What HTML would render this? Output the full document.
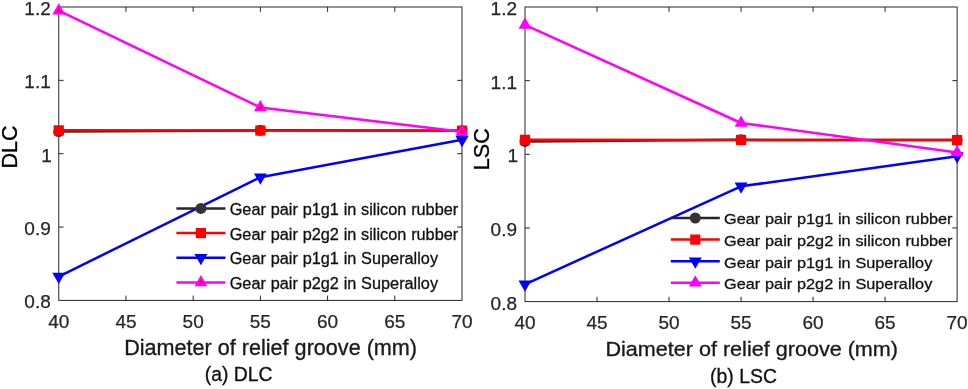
<!DOCTYPE html>
<html><head><meta charset="utf-8"><title>DLC and LSC</title>
<style>
html,body{margin:0;padding:0;background:#fff}
svg{display:block}
text{font-family:"Liberation Sans",Arial,Helvetica,sans-serif;fill:#262626}
.tk{font-size:19px;stroke:#262626;stroke-width:0.25px}
.xl{font-size:21.6px;fill:#1a1a1a;stroke:#1a1a1a;stroke-width:0.35px}
.yl{font-size:21.6px;fill:#000;stroke:#000;stroke-width:0.3px}
.cap{font-size:19.4px;fill:#111;stroke:#111;stroke-width:0.3px}
.lg{font-size:16.3px;word-spacing:0.25px;fill:#111;stroke:#111;stroke-width:0.3px}
</style></head><body>
<svg width="968" height="389" viewBox="0 0 968 389">
<rect width="968" height="389" fill="#fff"/>
<rect x="58.75" y="7" width="403.25" height="293.4" fill="none" stroke="#262626" stroke-width="1"/>
<text x="58.75" y="328.10" text-anchor="middle" class="tk">40</text>
<path d="M125.96 300.4v-4.8M125.96 7v4.8" stroke="#262626" stroke-width="1"/>
<text x="125.96" y="328.10" text-anchor="middle" class="tk">45</text>
<path d="M193.17 300.4v-4.8M193.17 7v4.8" stroke="#262626" stroke-width="1"/>
<text x="193.17" y="328.10" text-anchor="middle" class="tk">50</text>
<path d="M260.38 300.4v-4.8M260.38 7v4.8" stroke="#262626" stroke-width="1"/>
<text x="260.38" y="328.10" text-anchor="middle" class="tk">55</text>
<path d="M327.58 300.4v-4.8M327.58 7v4.8" stroke="#262626" stroke-width="1"/>
<text x="327.58" y="328.10" text-anchor="middle" class="tk">60</text>
<path d="M394.79 300.4v-4.8M394.79 7v4.8" stroke="#262626" stroke-width="1"/>
<text x="394.79" y="328.10" text-anchor="middle" class="tk">65</text>
<text x="462.00" y="328.10" text-anchor="middle" class="tk">70</text>
<text x="50.75" y="308.30" text-anchor="end" class="tk">0.8</text>
<path d="M58.75 227.05h4.8M462 227.05h-4.8" stroke="#262626" stroke-width="1"/>
<text x="50.75" y="234.95" text-anchor="end" class="tk">0.9</text>
<path d="M58.75 153.70h4.8M462 153.70h-4.8" stroke="#262626" stroke-width="1"/>
<text x="51.95" y="161.60" text-anchor="end" class="tk">1</text>
<path d="M58.75 80.35h4.8M462 80.35h-4.8" stroke="#262626" stroke-width="1"/>
<text x="50.75" y="88.25" text-anchor="end" class="tk">1.1</text>
<text x="50.75" y="14.90" text-anchor="end" class="tk">1.2</text>
<polyline points="58.75,131.55 260.38,130.37 462.00,130.67" fill="none" stroke="#262626" stroke-width="2.5" stroke-linejoin="round"/>
<circle cx="58.75" cy="131.55" r="5.5" fill="#333"/>
<circle cx="260.38" cy="130.37" r="5.5" fill="#333"/>
<circle cx="462.00" cy="130.67" r="5.5" fill="#333"/>
<polyline points="58.75,130.37 260.38,130.52 462.00,130.67" fill="none" stroke="#ff0000" stroke-width="2.5" stroke-linejoin="round"/>
<rect x="53.65" y="125.27" width="10.2" height="10.2" fill="#ff0000"/>
<rect x="255.28" y="125.42" width="10.2" height="10.2" fill="#ff0000"/>
<rect x="456.90" y="125.57" width="10.2" height="10.2" fill="#ff0000"/>
<polyline points="58.75,276.56 260.38,177.17 462.00,139.76" fill="none" stroke="#0000ff" stroke-width="2.5" stroke-linejoin="round"/>
<path d="M52.25 272.79h13l-6.5 11.3z" fill="#0000ff"/>
<path d="M253.88 173.40h13l-6.5 11.3z" fill="#0000ff"/>
<path d="M455.50 135.99h13l-6.5 11.3z" fill="#0000ff"/>
<polyline points="58.75,10.67 260.38,107.49 462.00,131.69" fill="none" stroke="#ff00ff" stroke-width="2.5" stroke-linejoin="round"/>
<path d="M54.35 13.22h8.8l-4.4 -7.62z" fill="#ff0000" stroke="#ff00ff" stroke-width="2.4" stroke-linejoin="miter"/>
<path d="M255.97 110.04h8.8l-4.4 -7.62z" fill="#ff0000" stroke="#ff00ff" stroke-width="2.4" stroke-linejoin="miter"/>
<path d="M457.60 134.25h8.8l-4.4 -7.62z" fill="#ff0000" stroke="#ff00ff" stroke-width="2.4" stroke-linejoin="miter"/>
<text transform="translate(270.6 354.80) scale(1 1)" text-anchor="middle" class="xl">Diameter of relief groove (mm)</text>
<text transform="translate(16.6 146.9) rotate(-90) scale(1 1.05)" text-anchor="middle" class="yl">DLC</text>
<text x="238.7" y="380.60" text-anchor="middle" class="cap">(a) DLC</text>
<path d="M176.4 208.4h49" stroke="#262626" stroke-width="2.5"/>
<circle cx="200.90" cy="208.40" r="5.5" fill="#333"/>
<text transform="translate(229.70 214.80) scale(1 1.02)" class="lg">Gear pair p1g1 in silicon rubber</text>
<path d="M176.4 233.1h49" stroke="#ff0000" stroke-width="2.5"/>
<rect x="195.80" y="228.00" width="10.2" height="10.2" fill="#ff0000"/>
<text transform="translate(229.70 239.50) scale(1 1.02)" class="lg">Gear pair p2g2 in silicon rubber</text>
<path d="M176.4 257.8h49" stroke="#0000ff" stroke-width="2.5"/>
<path d="M194.40 254.03h13l-6.5 11.3z" fill="#0000ff"/>
<text transform="translate(229.70 264.20) scale(1 1.02)" class="lg">Gear pair p1g1 in Superalloy</text>
<path d="M176.4 282.5h49" stroke="#ff00ff" stroke-width="2.5"/>
<path d="M196.50 285.05h8.8l-4.4 -7.62z" fill="#ff0000" stroke="#ff00ff" stroke-width="2.4" stroke-linejoin="miter"/>
<text transform="translate(229.70 288.90) scale(1 1.02)" class="lg">Gear pair p2g2 in Superalloy</text>
<rect x="525" y="7" width="432.1" height="294.6" fill="none" stroke="#262626" stroke-width="1"/>
<text x="525.00" y="329.30" text-anchor="middle" class="tk">40</text>
<path d="M597.02 301.6v-4.8M597.02 7v4.8" stroke="#262626" stroke-width="1"/>
<text x="597.02" y="329.30" text-anchor="middle" class="tk">45</text>
<path d="M669.03 301.6v-4.8M669.03 7v4.8" stroke="#262626" stroke-width="1"/>
<text x="669.03" y="329.30" text-anchor="middle" class="tk">50</text>
<path d="M741.05 301.6v-4.8M741.05 7v4.8" stroke="#262626" stroke-width="1"/>
<text x="741.05" y="329.30" text-anchor="middle" class="tk">55</text>
<path d="M813.07 301.6v-4.8M813.07 7v4.8" stroke="#262626" stroke-width="1"/>
<text x="813.07" y="329.30" text-anchor="middle" class="tk">60</text>
<path d="M885.08 301.6v-4.8M885.08 7v4.8" stroke="#262626" stroke-width="1"/>
<text x="885.08" y="329.30" text-anchor="middle" class="tk">65</text>
<text x="957.10" y="329.30" text-anchor="middle" class="tk">70</text>
<text x="517.00" y="309.50" text-anchor="end" class="tk">0.8</text>
<path d="M525 227.95h4.8M957.1 227.95h-4.8" stroke="#262626" stroke-width="1"/>
<text x="517.00" y="235.85" text-anchor="end" class="tk">0.9</text>
<path d="M525 154.30h4.8M957.1 154.30h-4.8" stroke="#262626" stroke-width="1"/>
<text x="518.20" y="162.20" text-anchor="end" class="tk">1</text>
<path d="M525 80.65h4.8M957.1 80.65h-4.8" stroke="#262626" stroke-width="1"/>
<text x="517.00" y="88.55" text-anchor="end" class="tk">1.1</text>
<text x="517.00" y="14.90" text-anchor="end" class="tk">1.2</text>
<polyline points="525.00,141.41 741.05,139.86 957.10,140.09" fill="none" stroke="#262626" stroke-width="2.5" stroke-linejoin="round"/>
<circle cx="525.00" cy="141.41" r="5.5" fill="#333"/>
<circle cx="741.05" cy="139.86" r="5.5" fill="#333"/>
<circle cx="957.10" cy="140.09" r="5.5" fill="#333"/>
<polyline points="525.00,139.79 741.05,139.94 957.10,140.09" fill="none" stroke="#ff0000" stroke-width="2.5" stroke-linejoin="round"/>
<rect x="519.90" y="134.69" width="10.2" height="10.2" fill="#ff0000"/>
<rect x="735.95" y="134.84" width="10.2" height="10.2" fill="#ff0000"/>
<rect x="952.00" y="134.99" width="10.2" height="10.2" fill="#ff0000"/>
<polyline points="525.00,284.29 741.05,186.34 957.10,156.14" fill="none" stroke="#0000ff" stroke-width="2.5" stroke-linejoin="round"/>
<path d="M518.50 280.52h13l-6.5 11.3z" fill="#0000ff"/>
<path d="M734.55 182.57h13l-6.5 11.3z" fill="#0000ff"/>
<path d="M950.60 152.37h13l-6.5 11.3z" fill="#0000ff"/>
<polyline points="525.00,24.90 741.05,123.00 957.10,152.46" fill="none" stroke="#ff00ff" stroke-width="2.5" stroke-linejoin="round"/>
<path d="M518.50 28.67h13l-6.5 -11.3z" fill="#ff00ff"/>
<path d="M734.55 126.77h13l-6.5 -11.3z" fill="#ff00ff"/>
<path d="M950.60 156.23h13l-6.5 -11.3z" fill="#ff00ff"/>
<text transform="translate(751.7 355.70) scale(1 0.95)" text-anchor="middle" class="xl">Diameter of relief groove (mm)</text>
<text transform="translate(488.5 149.2) rotate(-90) scale(1 1.05)" text-anchor="middle" class="yl">LSC</text>
<text x="743.5" y="382.80" text-anchor="middle" class="cap">(b) LSC</text>
<path d="M670.8 218.0h49" stroke="#262626" stroke-width="2.5"/>
<circle cx="695.30" cy="218.00" r="5.5" fill="#333"/>
<text transform="translate(724.10 224.30) scale(1 0.94)" class="lg">Gear pair p1g1 in silicon rubber</text>
<path d="M670.8 239.6h49" stroke="#ff0000" stroke-width="2.5"/>
<rect x="690.20" y="234.50" width="10.2" height="10.2" fill="#ff0000"/>
<text transform="translate(724.10 245.90) scale(1 0.94)" class="lg">Gear pair p2g2 in silicon rubber</text>
<path d="M670.8 261.2h49" stroke="#0000ff" stroke-width="2.5"/>
<path d="M688.80 257.43h13l-6.5 11.3z" fill="#0000ff"/>
<text transform="translate(724.10 267.50) scale(1 0.94)" class="lg">Gear pair p1g1 in Superalloy</text>
<path d="M670.8 282.8h49" stroke="#ff00ff" stroke-width="2.5"/>
<path d="M688.80 286.57h13l-6.5 -11.3z" fill="#ff00ff"/>
<text transform="translate(724.10 289.10) scale(1 0.94)" class="lg">Gear pair p2g2 in Superalloy</text>
</svg>
</body></html>
